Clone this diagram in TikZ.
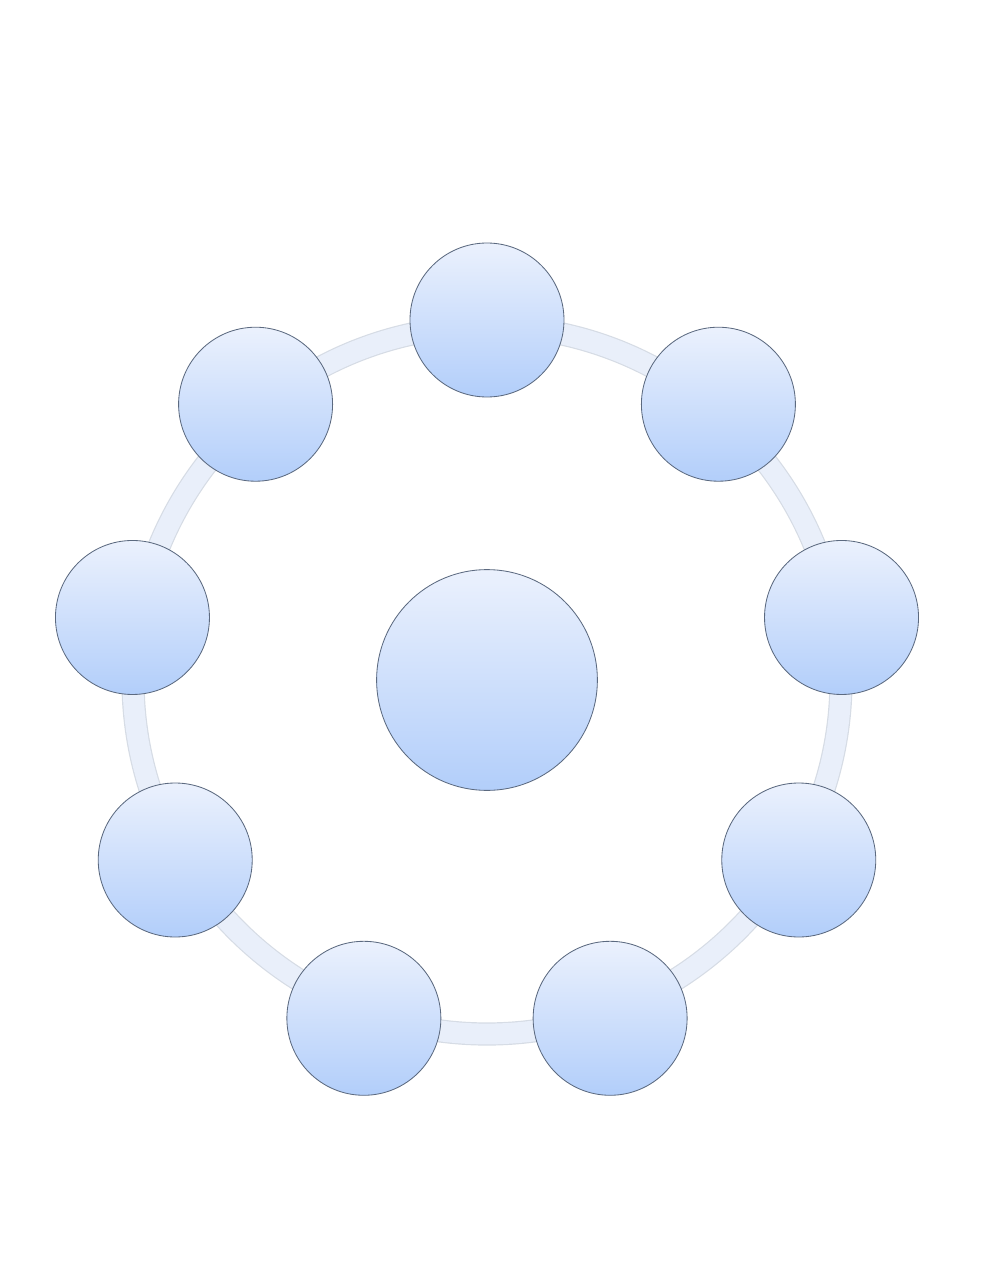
\documentclass[tikz,border=0pt]{standalone}
\usepackage{tikz}
\usepackage{xcolor}
\usetikzlibrary{calc, positioning}
\definecolor{ringfill}{HTML}{E9EFFA}
\definecolor{ringedge}{HTML}{D6DCE5}
\definecolor{balltop}{HTML}{EBF1FD}
\definecolor{ballbot}{HTML}{B2CEFA}
\definecolor{balledge}{HTML}{5C6a80}
\tikzset{
    ball/.style={circle, draw=balledge, line width=0.6pt, top color=balltop, bottom color=ballbot, minimum size=3.85cm, inner sep=0pt},
    hub/.style={ball, minimum size=5.52cm}
}

\begin{document}
\begin{tikzpicture}
                        \useasboundingbox (-12.175, -15) rectangle (12.575, 17);
                        \draw[ringedge, line width=0.58cm] (0, 0) circle (8.85);
                        \draw[ringfill, line width=0.52cm] (0, 0) circle (8.85);
                        \node[hub] (c) at (0, 0) {};
                        \node[ball] (n1) at (90:9) {};
                        \node[ball] (n2) at (50:9) {};
                        \node[ball] (n3) at (10:9) {};
                        \node[ball] (n4) at (-30:9) {};
                        \node[ball] (n5) at (-70:9) {};
                        \node[ball] (n6) at (-110:9) {};
                        \node[ball] (n7) at (-150:9) {};
                        \node[ball] (n8) at (170:9) {};
                        \node[ball] (n9) at (130:9) {};
                    \end{tikzpicture}
\end{document}
